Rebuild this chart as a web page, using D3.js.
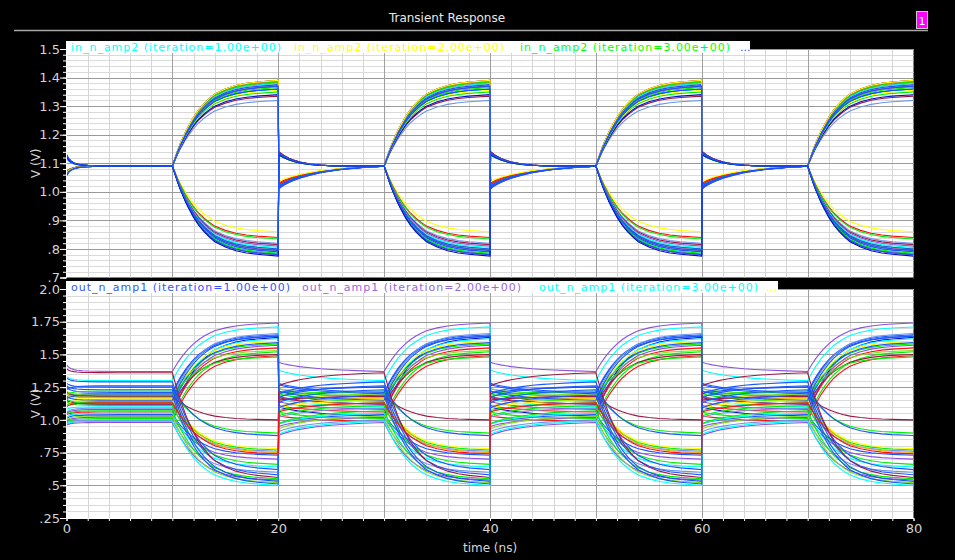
<!DOCTYPE html>
<html>
<head>
<meta charset="utf-8">
<script src="https://cdn.jsdelivr.net/npm/d3@7"></script>
<style>
  body { margin: 0; background: #000; }
  svg { display: block; }
  text { font-family: "DejaVu Sans", sans-serif; }
</style>
</head>
<body>
<svg id="chart" width="955" height="560"></svg>
<script>
// ---- data ----
const periodStarts = [0, 20, 40, 60];           // ns, each period = 10 ns settle + 10 ns split
const xTickValues = [0, 20, 40, 60, 80];
const inTickValues = [1.5, 1.4, 1.3, 1.2, 1.1, 1.0, 0.9, 0.8, 0.7];
const inTickLabels = ["1.5", "1.4", "1.3", "1.2", "1.1", "1.0", ".9", ".8", ".7"];
const outTickValues = [2.0, 1.75, 1.5, 1.25, 1.0, 0.75, 0.5, 0.25];
const outTickLabels = ["2.0", "1.75", "1.5", "1.25", "1.0", ".75", ".5", ".25"];

// settling shapes (time after edge in ns, fraction of the step done)
const startT  = [0, 0.2, 0.4, 0.7, 1, 1.5, 2, 3, 5, 10];
const startF  = [0, 0.35, 0.55, 0.72, 0.82, 0.9, 0.94, 0.98, 1, 1];
const resetT  = [0.05, 0.25, 0.5, 1, 1.5, 2, 3, 4, 5, 6, 8, 10];
const resetF  = [0, 0.08, 0.16, 0.28, 0.38, 0.47, 0.6, 0.71, 0.79, 0.85, 0.94, 1];
const fastResetF = [0, 0.12, 0.25, 0.45, 0.6, 0.72, 0.86, 0.93, 0.97, 0.99, 1, 1];
const splitT  = [0, 0.25, 0.5, 0.75, 1, 1.25, 1.5, 2, 2.5, 3, 3.5, 4, 5, 6, 7, 8, 10];
const splitF  = [0, 0.09, 0.18, 0.26, 0.33, 0.4, 0.46, 0.57, 0.66, 0.73, 0.79, 0.84, 0.9, 0.94, 0.965, 0.98, 1];

// in_n_amp2 (top panel)
const inSettle = 1.09;
const inFinal = [1.32, 1.335, 1.34, 1.35, 1.355, 1.36, 1.36, 1.365, 1.37, 1.37, 1.375, 1.375, 1.38, 1.38, 1.38,
  1.385, 1.385, 1.39, 1.39, 1.39, 1.37, 1.36,
  0.86, 0.84, 0.835, 0.82, 0.815, 0.81, 0.805, 0.80, 0.80, 0.795, 0.79, 0.79, 0.785, 0.785, 0.78, 0.78, 0.775, 0.795];
const inReset = [1.03, 1.025, 1.02, 1.02, 1.03, 1.015, 1.025, 1.02, 1.03, 1.01, 1.02, 1.025, 1.03, 1.015, 1.02,
  1.025, 1.02, 1.01, 1.03, 1.035, 1.02, 1.015,
  1.14, 1.135, 1.13, 1.135, 1.14, 1.13, 1.135, 1.13, 1.14, 1.135, 1.13, 1.14, 1.135, 1.13, 1.14, 1.135, 1.13, 1.135];
const inStart = [1.07, 1.065, 1.06, 1.065, 1.07, 1.06, 1.065, 1.06, 1.07, 1.06, 1.065, 1.07, 1.06, 1.065, 1.07,
  1.06, 1.065, 1.06, 1.07, 1.065, 1.06, 1.055,
  1.12, 1.125, 1.13, 1.12, 1.125, 1.13, 1.12, 1.125, 1.13, 1.12, 1.125, 1.13, 1.12, 1.125, 1.13, 1.12, 1.125, 1.13];

// out_n_amp1 (bottom panel)
const outLevelA = [1.37, 1.30, 1.21, 1.20, 1.17, 1.03, 1.10, 1.16, 1.14, 1.12, 1.06, 1.19, 1.08, 1.01, 1.12, 0.99, 1.18,
  1.18, 1.22, 1.25, 1.15, 1.13, 1.09, 1.17, 1.04, 1.02, 1.11, 1.05, 1.29, 1.00, 1.26, 1.36, 1.07, 0.98, 1.23, 1.03,
  0.99, 1.19, 1.13, 1.15];
const outLevelB = [1.74, 1.71, 1.65, 1.64, 1.66, 1.63, 1.62, 1.60, 1.58, 1.59, 1.55, 1.53, 1.57, 1.52, 1.50, 1.49, 1.48,
  1.00, 0.90, 0.88, 0.78, 0.77, 0.76, 0.75, 0.73, 0.70, 0.66, 0.64, 0.62, 0.60, 0.58, 0.56, 0.55, 0.54, 0.53, 0.52,
  0.50, 0.51, 0.74, 1.64];
const outReset = [1.44, 1.38, 1.28, 1.27, 1.24, 1.10, 1.16, 1.22, 1.20, 1.18, 1.11, 1.24, 1.14, 1.06, 1.17, 1.03, 1.22,
  1.15, 1.18, 1.20, 1.09, 1.07, 1.02, 1.10, 0.97, 0.95, 1.03, 0.97, 1.20, 0.91, 1.17, 1.26, 0.97, 0.88, 1.13, 0.93,
  0.89, 1.09, 1.06, 1.22];
const outStart = [1.42, 1.33, 1.25, 1.17, 1.20, 1.06, 1.08, 1.19, 1.11, 1.15, 1.04, 1.22, 1.05, 0.98, 1.15, 0.97, 1.21,
  1.21, 1.19, 1.28, 1.12, 1.16, 1.06, 1.20, 1.01, 0.99, 1.14, 1.02, 1.32, 0.97, 1.23, 1.39, 1.04, 0.96, 1.26, 1.00,
  0.97, 1.16, 1.10, 1.18];

const inLegend = ["in_n_amp2 (iteration=1.00e+00)", "in_n_amp2 (iteration=2.00e+00)", "in_n_amp2 (iteration=3.00e+00)", "..."];
const outLegend = ["out_n_amp1 (iteration=1.00e+00)", "out_n_amp1 (iteration=2.00e+00)", "out_n_amp1 (iteration=3.00e+00)", "..."];

// ---- styles ----
const cy = "#00ffff", ye = "#ffff00", gr = "#00ee00", bl = "#1a55ff", db = "#0010c8", lb = "#6a96f0",
      rd = "#ff1010", mar = "#a01848", pu = "#8a50e0", li = "#80e020", orn = "#e8b000";
const inColors = [lb, mar, db, gr, ye, cy, bl, gr, rd, pu, lb, bl, ye, mar, cy, rd, gr, bl, rd, ye, bl, bl,
  ye, rd, gr, lb, mar, pu, cy, gr, bl, rd, lb, bl, cy, gr, mar, bl, db, bl];
const outColors = [pu, cy, bl, bl, lb, db, cy, ye, gr, bl, rd, li, pu, gr, mar, rd, gr, mar, gr, bl, ye, gr, lb, orn,
  bl, pu, gr, cy, bl, lb, bl, mar, gr, pu, bl, li, cy, bl, rd, bl];
const inLegendColors = [cy, ye, "#00ff00", "#2060ff"];
const outLegendColors = ["#3355ff", "#9966dd", cy, ye];

const svg = d3.select("#chart");
const x = d3.scaleLinear().domain([0, 80]).range([66.5, 913.5]);
const yIn = d3.scaleLinear().domain([0.7, 1.5]).range([277.5, 49]);
const yOut = d3.scaleLinear().domain([0.25, 2.0]).range([518, 289]);

// title bar
svg.append("text").attr("x", 447).attr("y", 22).attr("text-anchor", "middle")
  .attr("fill", "#e8e8e8").attr("font-size", 12).text("Transient Response");
svg.append("line").attr("x1", 14).attr("x2", 928).attr("y1", 30.5).attr("y2", 30.5)
  .attr("stroke", "#a8a8a8").attr("stroke-width", 1.5);
svg.append("rect").attr("x", 916.5).attr("y", 11.5).attr("width", 11).attr("height", 17)
  .attr("fill", "#ff00ff").attr("stroke", "#c8c8c8");
svg.append("text").attr("x", 922).attr("y", 25).attr("text-anchor", "middle")
  .attr("fill", "#fff").attr("font-size", 11).text("1");

// build the points of one trace over the four periods
function tracePoints(settle, final, reset, start, fast) {
  const pts = [];
  periodStarts.forEach((t0, p) => {
    const s = p === 0 ? start : reset;
    const T = p === 0 ? startT : resetT;
    const F = p === 0 ? startF : (fast ? fastResetF : resetF);
    T.forEach((dt, k) => pts.push([t0 + dt, s + (settle - s) * F[k]]));
    splitT.forEach((dt, k) => {
      if (dt > 0) pts.push([t0 + 10 + dt, settle + (final - settle) * splitF[k]]);
    });
  });
  return pts;
}

function drawPanel(cfg) {
  const g = svg.append("g");
  const [y0, y1] = cfg.y.range();
  const top = y1, bottom = y0;

  g.append("rect").attr("x", x(0)).attr("y", top).attr("width", x(80) - x(0)).attr("height", bottom - top)
    .attr("fill", "#fff");

  // grid
  const minorH = d3.range(cfg.y.domain()[0], cfg.y.domain()[1] + 1e-9, cfg.minorStep);
  g.append("g").selectAll("line").data(minorH).enter().append("line")
    .attr("x1", x(0)).attr("x2", x(80))
    .attr("y1", d => Math.round(cfg.y(d)) + 0.5).attr("y2", d => Math.round(cfg.y(d)) + 0.5)
    .attr("stroke", "#dadada");
  g.append("g").selectAll("line").data(d3.range(2, 80, 2)).enter().append("line")
    .attr("y1", top).attr("y2", bottom)
    .attr("x1", d => Math.round(x(d)) + 0.5).attr("x2", d => Math.round(x(d)) + 0.5)
    .attr("stroke", d => d % 10 === 0 ? "#a0a0a0" : "#d6d6d6");
  g.append("g").selectAll("line").data(cfg.ticks).enter().append("line")
    .attr("x1", x(0)).attr("x2", x(80))
    .attr("y1", d => Math.round(cfg.y(d)) + 0.5).attr("y2", d => Math.round(cfg.y(d)) + 0.5)
    .attr("stroke", "#9a9a9a");

  // traces
  const clipId = "clip-" + cfg.name;
  g.append("clipPath").attr("id", clipId).append("rect")
    .attr("x", x(0)).attr("y", top - 1).attr("width", x(80) - x(0)).attr("height", bottom - top + 2);
  const line = d3.line().x(d => x(d[0])).y(d => cfg.y(d[1]));
  g.append("g").attr("clip-path", `url(#${clipId})`)
    .selectAll("path").data(cfg.traces).enter().append("path")
    .attr("d", d => line(d.pts))
    .attr("fill", "none")
    .attr("stroke", d => d.color)
    .attr("stroke-width", 1.1);

  // left axis
  const axis = d3.axisLeft(cfg.y).tickValues(cfg.ticks).tickSize(6)
    .tickFormat((d, i) => cfg.labels[i]);
  const ax = g.append("g").attr("transform", `translate(${x(0) - 0.5},0)`).call(axis);
  ax.select(".domain").attr("stroke", "#fff");
  ax.selectAll(".tick line").attr("stroke", "#fff");
  ax.selectAll(".tick text").attr("fill", "#d4d4d4").attr("font-size", 13)
    .attr("font-family", "DejaVu Sans, sans-serif").attr("x", -6);
  const minorAxis = d3.axisLeft(cfg.y).tickValues(minorH).tickSize(3).tickFormat("");
  const mx = g.append("g").attr("transform", `translate(${x(0) - 0.5},0)`).call(minorAxis);
  mx.select(".domain").remove();
  mx.selectAll(".tick line").attr("stroke", "#fff");

  svg.append("text")
    .attr("transform", `translate(40,${(top + bottom) / 2}) rotate(-90)`)
    .attr("text-anchor", "middle").attr("fill", "#d4d4d4").attr("font-size", 12).text("V (V)");

  // legend strip
  svg.append("rect").attr("x", x(0) - 0.5).attr("y", cfg.legendY).attr("width", cfg.legendW).attr("height", 12)
    .attr("fill", "#fff");
  svg.append("g").selectAll("text").data(cfg.legend).enter().append("text")
    .attr("x", (d, i) => cfg.legendX[i])
    .attr("y", cfg.legendY + 9.5)
    .attr("font-size", 11)
    .attr("fill", (d, i) => cfg.legendColors[i])
    .attr("textLength", d => d === "..." ? null : cfg.legendLen)
    .attr("lengthAdjust", "spacing")
    .text(d => d);
}

drawPanel({
  name: "in", y: yIn, ticks: inTickValues, labels: inTickLabels, minorStep: 0.02,
  traces: inFinal.map((f, i) => ({ color: inColors[i],
    pts: tracePoints(inSettle, f, inReset[i], inStart[i], inReset[i] > inSettle) })),
  legend: inLegend, legendColors: inLegendColors, legendX: [71, 294, 520, 740], legendLen: 210,
  legendY: 41, legendW: 684
});

drawPanel({
  name: "out", y: yOut, ticks: outTickValues, labels: outTickLabels, minorStep: 0.05,
  traces: outLevelA.map((a, i) => ({ color: outColors[i],
    pts: tracePoints(a, outLevelB[i], outReset[i], outStart[i], false) })),
  legend: outLegend, legendColors: outLegendColors, legendX: [71, 302, 539, 766], legendLen: 219,
  legendY: 281, legendW: 712
});

// black separator between panels
svg.append("rect").attr("x", x(0)).attr("y", 278).attr("width", x(80) - x(0)).attr("height", 3).attr("fill", "#000");

// time axis
const xAxis = d3.axisBottom(x).tickValues(d3.range(0, 81, 2)).tickSize(3)
  .tickFormat(d => xTickValues.includes(d) ? d : "");
const xa = svg.append("g").attr("transform", "translate(0,518)").call(xAxis);
xa.select(".domain").attr("stroke", "#fff");
xa.selectAll(".tick line").attr("stroke", "#fff");
xa.selectAll(".tick text").attr("fill", "#d4d4d4").attr("font-size", 13)
  .attr("font-family", "DejaVu Sans, sans-serif").attr("y", 6);

svg.append("text").attr("x", 490).attr("y", 552).attr("text-anchor", "middle")
  .attr("fill", "#d4d4d4").attr("font-size", 12).text("time (ns)");
</script>
</body>
</html>
